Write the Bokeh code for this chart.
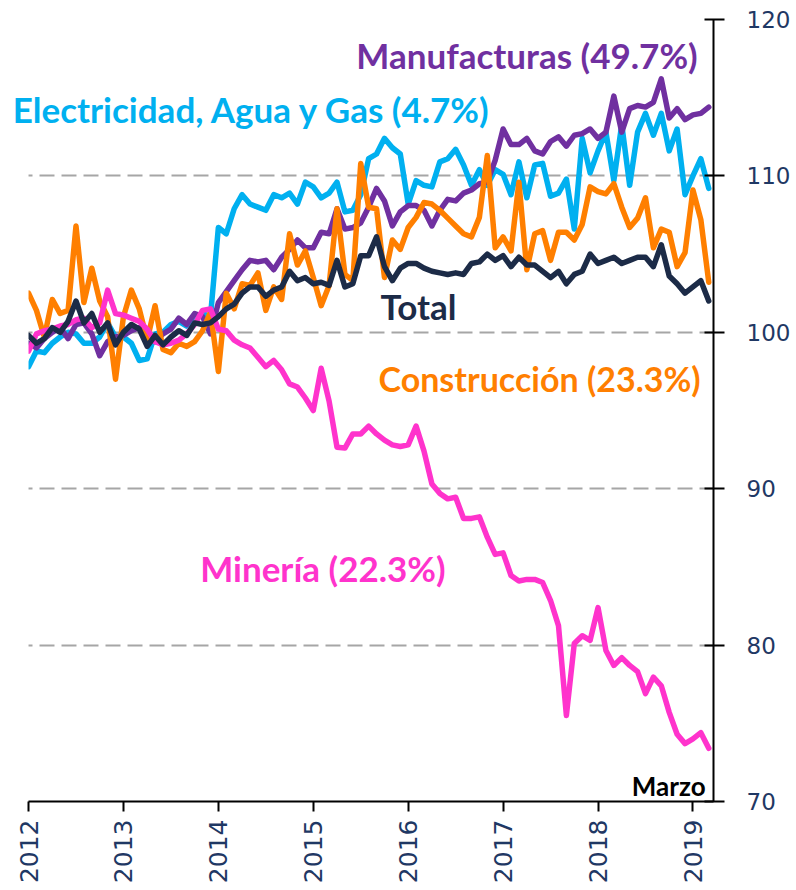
import math
from bokeh.plotting import figure
from bokeh.models import Range1d, FixedTicker, Label, BoxAnnotation
from bokeh.embed import file_html
from bokeh.resources import INLINE

# ---- data (monthly index, Jan 2012 .. Mar 2019) ----
years = ["2012", "2013", "2014", "2015", "2016", "2017", "2018", "2019"]
year_ticks = [0, 12, 24, 36, 48, 60, 72, 84]
y_ticks = [70, 80, 90, 100, 110, 120]
grid_ticks = [80, 90, 100, 110]

total = [99.8, 99.3, 99.6, 100.3, 100.0, 100.7, 102.0, 100.6, 101.2, 100.0, 100.6, 99.2,
         100.0, 100.5, 100.2, 99.1, 99.8, 99.2, 99.7, 100.1, 99.8, 100.6, 100.5, 100.6,
         101.0, 101.5, 101.8, 102.5, 102.9, 102.9, 102.3, 102.7, 102.9, 103.9, 103.3, 103.5,
         103.1, 103.2, 103.0, 104.6, 102.9, 103.1, 104.9, 104.9, 106.1, 104.2, 103.3, 104.1,
         104.4, 104.4, 104.1, 103.9, 103.8, 103.7, 103.8, 103.7, 104.4, 104.5, 105.0, 104.6,
         104.9, 104.2, 104.8, 104.3, 104.3, 103.9, 103.5, 103.9, 103.1, 103.7, 103.9, 105.0,
         104.4, 104.6, 104.8, 104.4, 104.6, 104.8, 104.8, 104.2, 105.6, 103.6, 103.1, 102.5,
         102.9, 103.3, 102.0]

manufacturas = [99.3, 99.0, 99.6, 100.0, 100.3, 99.6, 100.5, 100.6, 99.9, 98.5, 99.4, 99.7,
                99.8, 100.1, 100.3, 99.8, 99.4, 99.9, 100.2, 100.9, 100.5, 101.2, 101.0, 99.9,
                101.9, 102.6, 103.3, 104.0, 104.6, 104.5, 104.6, 104.0, 104.8, 105.3, 105.9, 105.4,
                105.4, 106.4, 106.3, 107.9, 106.6, 106.7, 107.0, 108.0, 109.2, 108.4, 106.8, 107.7,
                108.1, 108.1, 107.8, 106.8, 107.8, 108.5, 108.4, 108.9, 109.1, 109.5, 109.6, 111.0,
                113.0, 112.0, 112.0, 112.4, 111.6, 111.4, 112.2, 112.5, 111.9, 112.6, 112.7, 113.0,
                112.4, 112.8, 115.1, 112.8, 114.3, 114.5, 114.4, 114.7, 116.2, 113.7, 114.3, 113.6,
                113.9, 114.0, 114.4]

electricidad = [97.8, 98.8, 98.7, 99.3, 99.7, 100.0, 99.9, 99.3, 99.3, 99.7, 100.6, 99.7,
                99.7, 99.3, 98.2, 98.3, 99.9, 100.0, 100.5, 100.7, 100.4, 101.0, 101.2, 101.0,
                106.7, 106.3, 107.9, 108.8, 108.2, 108.0, 107.8, 108.8, 108.6, 108.9, 108.2, 109.6,
                109.3, 108.6, 108.9, 109.6, 107.7, 107.8, 108.8, 111.1, 111.4, 112.4, 111.8, 111.4,
                108.2, 109.7, 109.4, 109.3, 110.9, 111.1, 111.7, 110.7, 109.4, 110.4, 109.4, 110.4,
                110.1, 108.8, 110.9, 108.6, 110.7, 110.8, 108.7, 108.9, 109.8, 106.6, 112.4, 110.2,
                111.6, 112.8, 109.7, 113.3, 109.4, 112.8, 114.0, 112.6, 114.0, 111.6, 113.0, 108.8,
                110.0, 111.1, 109.2]

construccion = [102.5, 101.4, 99.7, 102.1, 101.2, 101.4, 106.8, 101.9, 104.1, 102.0, 101.0, 97.0,
                101.0, 102.7, 101.5, 99.5, 101.7, 98.9, 98.7, 99.3, 99.1, 99.4, 100.1, 101.3,
                97.5, 102.5, 101.5, 103.1, 103.0, 103.8, 101.4, 102.9, 102.1, 106.3, 104.3, 105.2,
                103.5, 101.7, 103.0, 107.9, 103.7, 103.3, 110.8, 108.0, 107.9, 103.5, 105.9, 105.3,
                106.7, 107.35, 108.3, 108.2, 107.8, 107.3, 106.8, 106.3, 106.1, 107.35, 111.3, 105.4,
                106.1, 105.2, 109.6, 104.0, 106.3, 106.5, 104.6, 106.4, 106.4, 105.9, 106.9, 109.3,
                109.0, 108.85, 109.5, 108.0, 106.7, 107.3, 108.6, 105.4, 106.6, 106.4, 104.2, 105.1,
                109.1, 107.2, 103.2]

mineria = [98.8, 99.9, 100.1, 100.2, 100.4, 100.5, 100.8, 100.9, 100.3, 100.6, 102.7, 101.2,
           101.1, 100.9, 100.7, 100.2, 99.4, 99.2, 99.3, 99.5, 99.9, 100.5, 101.4, 101.5,
           100.2, 100.1, 99.5, 99.2, 99.0, 98.4, 97.8, 98.2, 97.6, 96.7, 96.5, 95.8,
           95.0, 97.7, 95.6, 92.65, 92.6, 93.5, 93.5, 94.0, 93.5, 93.1, 92.8, 92.7,
           92.8, 94.0, 92.4, 90.3, 89.7, 89.35, 89.45, 88.1, 88.1, 88.2, 86.9, 85.8,
           85.9, 84.45, 84.1, 84.2, 84.2, 84.0, 82.85, 81.25, 75.5, 80.1, 80.6, 80.3,
           82.4, 79.65, 78.7, 79.2, 78.7, 78.3, 76.9, 77.95, 77.4, 75.7, 74.3, 73.7,
           74.0, 74.4, 73.4]

months = list(range(len(total)))

# ---- styling ----
NAVY = "#1C2B47"
PURPLE = "#7030A0"
BLUE = "#00B0F0"
ORANGE = "#FF7F00"
PINK = "#FF33CC"
AXIS_TXT = "#1F3864"

X_START, X_END = -2.28, 86.6

p = figure(output_backend="svg", toolbar_location=None,
           frame_width=703, frame_height=782,
           min_border_left=10, min_border_top=19, min_border_right=4, min_border_bottom=2,
           x_range=Range1d(X_START, X_END), y_range=Range1d(70, 120),
           y_axis_location="right")
p.outline_line_color = None
p.background_fill_color = "white"
p.border_fill_color = "white"

p.xgrid.visible = False
p.ygrid.ticker = FixedTicker(ticks=grid_ticks)
p.ygrid.grid_line_color = "#A6A6A6"
p.ygrid.grid_line_width = 2
p.ygrid.grid_line_dash = "15 7"
p.ygrid.grid_line_dash_offset = 15

# keep the grid lines starting at the left end of the x axis (Jan 2012)
p.add_layout(BoxAnnotation(right=0, fill_color="white", fill_alpha=1.0,
                           line_color=None, level="glyph"))

# y axis (right)
ya = p.yaxis[0]
ya.ticker = FixedTicker(ticks=y_ticks)
ya.axis_line_color = "black"
ya.axis_line_width = 2
ya.major_tick_line_color = "black"
ya.major_tick_line_width = 2
ya.major_tick_in = 9
ya.major_tick_out = 11
ya.minor_tick_line_color = None
ya.major_label_text_font = "DejaVu Sans"
ya.major_label_text_font_size = "23px"
ya.major_label_text_color = AXIS_TXT
ya.major_label_standoff = 22

# x axis (starts at Jan 2012)
xa = p.xaxis[0]
xa.bounds = (0, X_END)
xa.ticker = FixedTicker(ticks=year_ticks)
xa.major_label_overrides = {t: y for t, y in zip(year_ticks, years)}
xa.axis_line_color = "black"
xa.axis_line_width = 2
xa.major_tick_line_color = "black"
xa.major_tick_line_width = 2
xa.major_tick_in = 0
xa.major_tick_out = 10
xa.minor_tick_line_color = None
xa.major_label_orientation = math.pi / 2
xa.major_label_text_font = "DejaVu Sans"
xa.major_label_text_font_size = "25px"
xa.major_label_text_color = AXIS_TXT
xa.major_label_standoff = 8

series = [
    (electricidad, BLUE),
    (manufacturas, PURPLE),
    (construccion, ORANGE),
    (mineria, PINK),
    (total, NAVY),
]
for vals, col in series:
    p.line(months, vals, line_color=col, line_width=5.5, line_join="round", line_cap="round")

LBL_FONT = "Lato"
labels = [
    ("Manufacturas (49.7%)", 84.6, 117.7, "right", PURPLE, "35px"),
    ("Electricidad, Agua y Gas (4.7%)", -2.0, 114.3, "left", BLUE, "35px"),
    ("Total", 44.5, 101.7, "left", NAVY, "35px"),
    ("Construcción (23.3%)", 44.25, 97.05, "left", ORANGE, "34px"),
    ("Minería (22.3%)", 21.7, 84.9, "left", PINK, "35px"),
    ("Marzo", 85.6, 71.0, "right", "black", "26px"),
]
for txt, lx, ly, al, col, sz in labels:
    p.add_layout(Label(x=lx, y=ly, text=txt, text_align=al, text_baseline="middle",
                       text_color=col, text_font=LBL_FONT, text_font_style="bold",
                       text_font_size=sz))

open("out.html", "w").write(file_html(p, INLINE))
